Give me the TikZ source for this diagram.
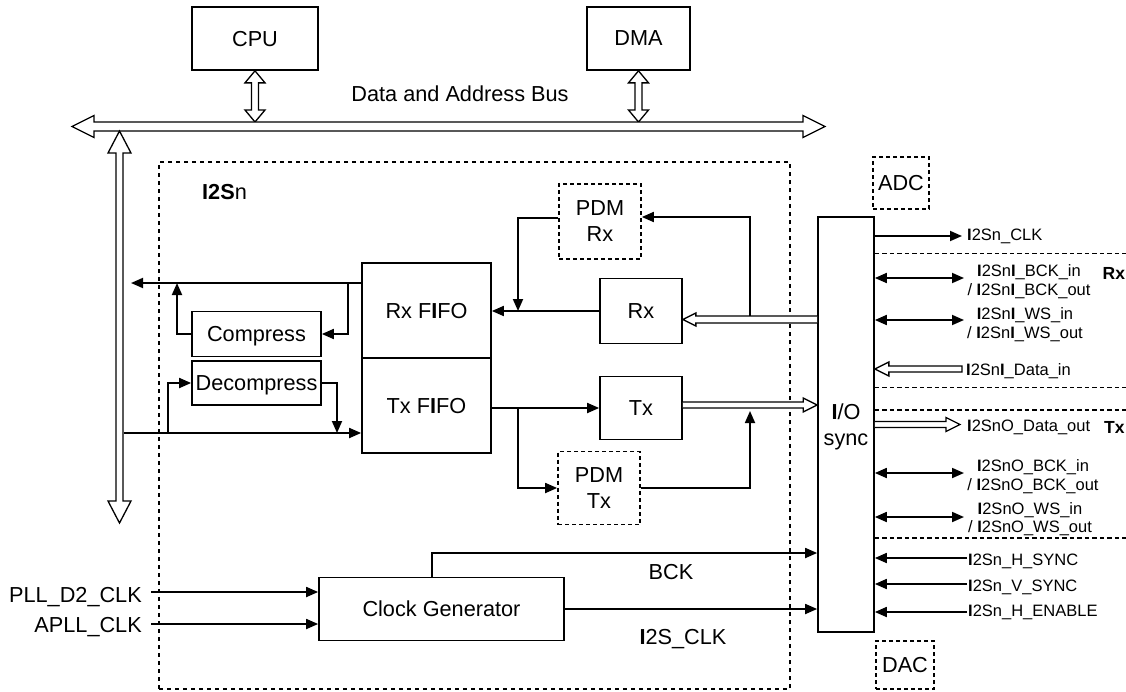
\documentclass[tikz,border=0pt]{standalone}
\usepackage{fontspec}
\setmainfont{Liberation Sans}
\usetikzlibrary{arrows.meta,calc}
\newcommand\Ib{\textbf{I}}
\tikzset{
 mainfont/.style={font=\fontsize{21.7}{26}\selectfont},
 sigfont/.style={font=\fontsize{16.5}{18.5}\selectfont},
 blk/.style={draw, line width=1.7pt, inner sep=0pt, align=center, text depth=0pt, mainfont},
 dotblk/.style={blk, dash pattern=on 4pt off 3pt},
 lbl/.style={inner sep=0pt, text depth=0pt, mainfont},
 sig/.style={inner sep=0pt, text depth=0pt, sigfont, align=center},
 conn/.style={line width=1.8pt},
 arr/.style={conn, -{Triangle[length=12pt,width=10pt]}},
 darr/.style={conn, {Triangle[length=12pt,width=10pt]}-{Triangle[length=12pt,width=10pt]}},
 sepline/.style={line width=1.6pt, dash pattern=on 4.5pt off 3pt},
 hollowline/.style={draw, line width=1.3pt, fill=white, line join=miter},
 sidelbl/.style={sig, anchor=west, font=\bfseries\fontsize{17.5}{19}\selectfont},
}
\newcommand\hollowgeom[2]{%
  \path let \p1=(#1), \p2=(#2) in
    \pgfextra{%
      \pgfmathsetmacro\tmpA{atan2((\y2)-(\y1),(\x2)-(\x1))}\global\let\haA\tmpA
      \pgfmathsetmacro\tmpL{veclen((\x2)-(\x1),(\y2)-(\y1))}\global\let\haL\tmpL
      \xdef\haX{\x1}\xdef\haY{\y1}};}
\newcommand\hollowarrow[6][]{%
  \hollowgeom{#2}{#3}
  \begin{scope}[shift={(\haX,\haY)}, rotate=\haA]
    \draw[hollowline] (0pt,#4) -- ({\haL pt-#6},#4) -- ({\haL pt-#6},#5) -- (\haL pt,0pt) -- ({\haL pt-#6},-#5) -- ({\haL pt-#6},-#4) -- (0pt,-#4) #1;
  \end{scope}}
\newcommand\hollowdouble[5]{%
  \hollowgeom{#1}{#2}
  \begin{scope}[shift={(\haX,\haY)}, rotate=\haA]
    \draw[hollowline] (0pt,0pt) -- (#5,#4) -- (#5,#3) -- ({\haL pt-#5},#3) -- ({\haL pt-#5},#4) -- (\haL pt,0pt) -- ({\haL pt-#5},-#4) -- ({\haL pt-#5},-#3) -- (#5,-#3) -- (#5,-#4) -- cycle;
  \end{scope}}
\begin{document}
\begin{tikzpicture}[x=1pt,y=-1pt]
\useasboundingbox (0,0) rectangle (1126,691);
% frame
\node[draw, line width=1.6pt, dash pattern=on 4pt off 4pt, minimum width=631pt, minimum height=527pt, inner sep=0pt] (frame) at (474.5,425.5) {};
\node[lbl, anchor=west] (li2s) at (202,191.5) {\textbf{I2S}n};
% top blocks
\node[blk, minimum width=126pt, minimum height=63pt] (cpu) at (255,38.5) {CPU};
\node[blk, minimum width=103pt, minimum height=63pt] (dma) at (638.5,38.5) {DMA};
\node[lbl] (lbus) at (460,94) {Data and Address Bus};
% inner blocks
\node[blk, minimum width=129pt, minimum height=95pt] (rxfifo) at (426.5,310.5) {Rx F\Ib FO};
\node[blk, minimum width=129pt, minimum height=95pt] (txfifo) at (426.5,405.5) {Tx F\Ib FO};
\node[blk, minimum width=129pt, minimum height=45pt] (compress) at (256.5,334) {Compress};
\node[blk, minimum width=129pt, minimum height=44pt] (decompress) at (256.5,383) {Decompress};
\node[dotblk, minimum width=82pt, minimum height=75pt] (pdmrx) at (600,221.5) {PDM\\Rx};
\node[blk, minimum width=82pt, minimum height=65pt] (rx) at (641,311) {Rx};
\node[blk, minimum width=82pt, minimum height=63pt] (tx) at (641,408) {Tx};
\node[dotblk, minimum width=82pt, minimum height=73pt] (pdmtx) at (599,488) {PDM\\Tx};
\node[blk, minimum width=56pt, minimum height=415pt] (io) at (846,424.5) {\Ib/O\\sync};
\node[dotblk, minimum width=56pt, minimum height=52pt] (adc) at (901,183) {ADC};
\node[dotblk, minimum width=58pt, minimum height=48pt] (dac) at (905,665) {DAC};
\node[blk, minimum width=245pt, minimum height=63pt] (clk) at (441.5,609) {Clock Generator};
% buses
\coordinate (busL) at (72,126.5);
\coordinate (busR) at (825,126.5);
\coordinate (bustop) at (0,122);
\coordinate (vbT) at (119.5,131);
\coordinate (vbB) at (119.5,523);
\hollowdouble{cpu.south}{cpu.south |- bustop}{3.5pt}{10pt}{12pt}
\hollowdouble{dma.south}{dma.south |- bustop}{3.5pt}{10pt}{12pt}
\hollowdouble{busL}{busR}{4.5pt}{11pt}{22pt}
\hollowdouble{vbT}{vbB}{3.5pt}{11.5pt}{22pt}
% left side connectors
\coordinate (rxo) at (131,283);
\draw[arr] (rxfifo.west |- rxo) -- (rxo);
\coordinate (b1) at (348,283);
\draw[arr] (b1) |- (compress.east);
\coordinate (b2) at (177,283);
\draw[arr] (compress.west) -| (b2);
\coordinate (b3) at (168,433);
\draw[arr] (b3) |- (decompress.west);
\coordinate (b4) at (337,433);
\draw[arr] (decompress.east) -| (b4);
\coordinate (txi) at (123.5,433);
\draw[arr] (txi) -- (txfifo.west |- txi);
% Rx / Tx paths
\coordinate (hrx) at (0,319.5);
\coordinate (htx) at (0,405);
\hollowarrow{io.west |- hrx}{rx.east |- hrx}{3.5pt}{6.5pt}{13pt}
\hollowarrow{tx.east |- htx}{io.west |- htx}{3pt}{7pt}{14pt}
\draw[arr] (rx.west) -- (rxfifo.east |- rx.west);
\coordinate (b5) at (518,311);
\draw[arr] ([yshift=3.5pt]pdmrx.west) -| (b5);
\coordinate (b6) at (750,316);
\draw[arr] (b6) |- ([yshift=4.5pt]pdmrx.east);
\draw[arr] (txfifo.east |- tx.west) -- (tx.west);
\coordinate (b7) at (518,408);
\draw[arr] (b7) |- (pdmtx.west);
\coordinate (b8) at (750,411);
\draw[arr] (pdmtx.east) -| (b8);
% clock
\coordinate (pllS) at (151,592);
\coordinate (apllS) at (151,624);
\node[lbl, anchor=east] (lpll) at (142,595) {PLL\_D2\_CLK};
\node[lbl, anchor=east] (lapll) at (142,625) {APLL\_CLK};
\draw[arr] (pllS) -- (clk.west |- pllS);
\draw[arr] (apllS) -- (clk.west |- apllS);
\coordinate (bckY) at (0,553);
\draw[arr] ([xshift=-9.5pt]clk.north) |- (io.west |- bckY);
\draw[arr] (clk.east) -- (io.west |- clk.east);
\node[lbl] (lbck) at (671,571.5) {BCK};
\node[lbl] (li2sclk) at (683,636.5) {\Ib 2S\_CLK};
% right side
\coordinate (clkT) at (962,236);
\coordinate (bckiT) at (964,278);
\coordinate (wsiT) at (964,320);
\coordinate (bckoT) at (964,473);
\coordinate (wsoT) at (964,517);
\coordinate (hsT) at (967,558);
\coordinate (vsT) at (967,584);
\coordinate (heT) at (967,612);
\coordinate (din) at (962,369);
\coordinate (dout) at (960,424.5);
\coordinate (s1) at (1126,253.5);
\coordinate (s2) at (1126,387.5);
\coordinate (s3) at (1126,410);
\coordinate (s4) at (1126,538);
\draw[sepline] (io.east |- s1) -- (s1);
\draw[sepline] (io.east |- s2) -- (s2);
\draw[sepline] (io.east |- s3) -- (s3);
\draw[sepline] (io.east |- s4) -- (s4);
\draw[arr] (io.east |- clkT) -- (clkT);
\draw[darr] (io.east |- bckiT) -- (bckiT);
\draw[darr] (io.east |- wsiT) -- (wsiT);
\draw[darr] (io.east |- bckoT) -- (bckoT);
\draw[darr] (io.east |- wsoT) -- (wsoT);
\draw[arr] (hsT) -- (io.east |- hsT);
\draw[arr] (vsT) -- (io.east |- vsT);
\draw[arr] (heT) -- (io.east |- heT);
\hollowarrow[-- cycle]{din}{io.east |- din}{3pt}{7pt}{14pt}
\hollowarrow{io.east |- dout}{dout}{3pt}{7pt}{14pt}
\node[sig, anchor=west] (lclk) at (967,235) {\Ib 2Sn\_CLK};
\node[sig] (lbcki) at (1029,280) {\Ib 2Sn\Ib\_BCK\_in\\/ \Ib 2Sn\Ib\_BCK\_out};
\node[sig] (lwsi) at (1025,323) {\Ib 2Sn\Ib\_WS\_in\\/ \Ib 2Sn\Ib\_WS\_out};
\node[sig, anchor=west] (ldin) at (966,369.5) {\Ib 2Sn\Ib\_Data\_in};
\node[sig, anchor=west] (ldout) at (967,425.5) {\Ib 2SnO\_Data\_out};
\node[sig] (lbcko) at (1033,475) {\Ib 2SnO\_BCK\_in\\/ \Ib 2SnO\_BCK\_out};
\node[sig] (lwso) at (1030,517.5) {\Ib 2SnO\_WS\_in\\/ \Ib 2SnO\_WS\_out};
\node[sig, anchor=west] (lhs) at (968,560) {\Ib 2Sn\_H\_SYNC};
\node[sig, anchor=west] (lvs) at (968,586) {\Ib 2Sn\_V\_SYNC};
\node[sig, anchor=west] (lhe) at (968,611) {\Ib 2Sn\_H\_ENABLE};
\node[sidelbl] (lrx) at (1102.5,273.5) {Rx};
\node[sidelbl] (ltx) at (1104,427) {Tx};
\end{tikzpicture}
\end{document}
